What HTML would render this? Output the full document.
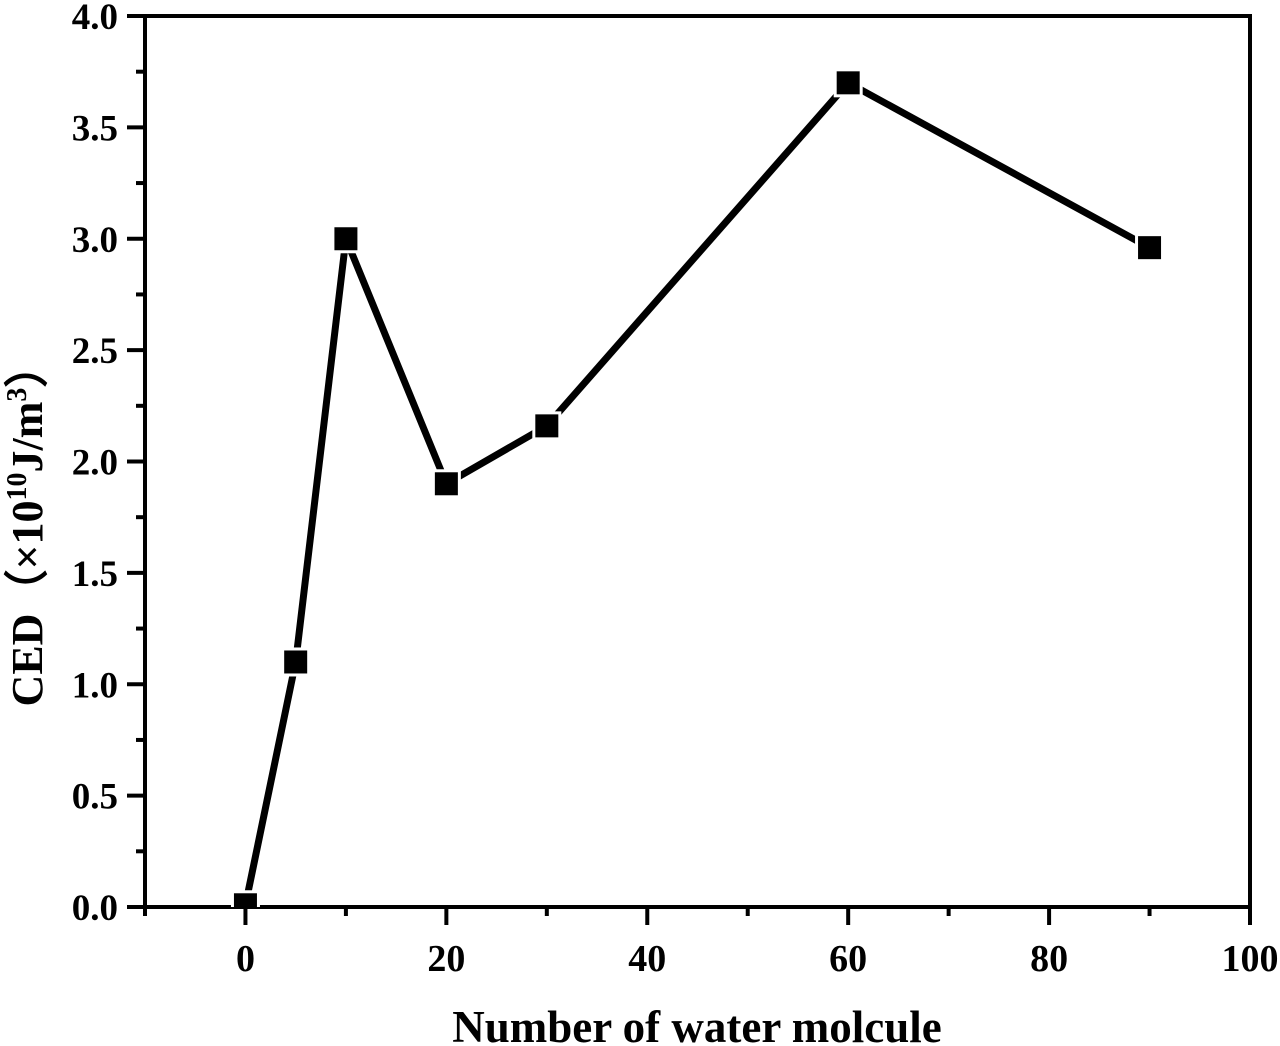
<!DOCTYPE html>
<html><head><meta charset="utf-8"><style>
body{margin:0;background:#fff;}
svg{display:block;font-family:"Liberation Serif",serif;font-weight:bold;}
</style></head><body>
<svg width="1280" height="1046">
<g id="axes"></g>
<defs><clipPath id="pc"><rect x="145" y="16" width="1105" height="891"/></clipPath></defs>
<g id="series" clip-path="url(#pc)"></g>
<text x="697" y="1042" text-anchor="middle" font-size="45">Number of water molcule</text>
<text transform="translate(42,525) rotate(-90)" text-anchor="middle" font-size="44">CED（×10<tspan font-size="28" dy="-16">10</tspan><tspan dy="16">J/m</tspan><tspan font-size="28" dy="-16">3</tspan><tspan dy="16">）</tspan></text>
</svg>
<script>
const xs=[0,5,10,20,30,60,90];
const ys=[0.01,1.1,3.0,1.9,2.16,3.7,2.96];
const xTicks=[0,20,40,60,80,100];
const yTicks=[0.0,0.5,1.0,1.5,2.0,2.5,3.0,3.5,4.0];
const L=145,R=1250,T=16,B=907;
const X=v=>L+(v+10)/110*(R-L);
const Y=v=>B-v/4*(B-T);
const NS="http://www.w3.org/2000/svg";
const ax=document.getElementById('axes'),se=document.getElementById('series');
function mk(p,tag,a){const e=document.createElementNS(NS,tag);for(const k in a)e.setAttribute(k,a[k]);p.appendChild(e);return e;}
const fr=mk(ax,'path',{d:`M${L} ${T}H${R}V${B}H${L}Z`,fill:'none',stroke:'#000','stroke-width':4});


for(let v=-10;v<=100;v+=10){const maj=v%20===0;
 const t=mk(ax,'line',{x1:X(v),x2:X(v),y1:B,y2:B+(maj?18:9),stroke:'#000','stroke-width':4});
 
 }
xTicks.forEach(v=>{const t=mk(ax,'text',{x:X(v),y:971,'text-anchor':'middle','font-size':38});t.textContent=v;
 
 });
for(let i=0;i<=16;i++){const v=i*0.25,maj=i%2===0;
 const t=mk(ax,'line',{x1:L-(maj?18:9),x2:L,y1:Y(v),y2:Y(v),stroke:'#000','stroke-width':4});
 
 }
yTicks.forEach(v=>{const t=mk(ax,'text',{x:118,y:Y(v)+13,'text-anchor':'end','font-size':37});t.textContent=v.toFixed(1);
 
 });
const ln=mk(se,'polyline',{points:xs.map((x,i)=>X(x)+','+Y(ys[i])).join(' '),fill:'none',stroke:'#000','stroke-width':7,'stroke-linejoin':'miter'});


xs.forEach((x,i)=>{const r=mk(se,'rect',{x:X(x)-13,y:Y(ys[i])-13,width:26,height:26,fill:'#000',stroke:'#fff','stroke-width':3});
 
 });
</script>
</body></html>
